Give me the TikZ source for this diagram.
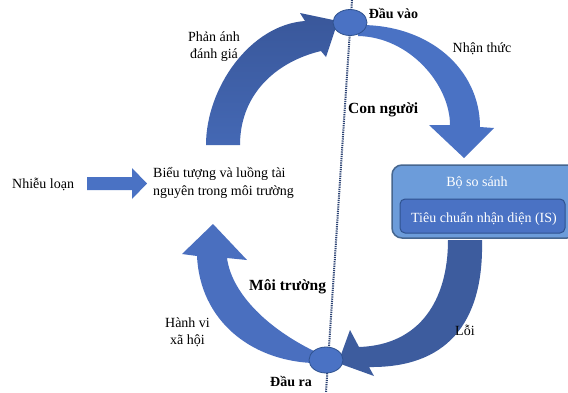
\documentclass[tikz,border=0pt]{standalone}
\usepackage{fontspec}
\setmainfont{Liberation Serif}
\usetikzlibrary{shapes.geometric}
\definecolor{blueA}{HTML}{4A72C4}
\definecolor{blueB}{HTML}{3D5C9E}
\definecolor{blueC}{HTML}{4A6FBF}
\definecolor{blueTop}{HTML}{39579A}
\definecolor{blueBot}{HTML}{4468B4}
\definecolor{edgeC}{HTML}{2F528F}
\definecolor{boxOut}{HTML}{6C9CDA}
\definecolor{boxEdge}{HTML}{46668F}
\definecolor{lineC}{HTML}{2A4172}
\begin{document}
\begin{tikzpicture}[x=1pt,y=-1pt,
  txt/.style={font=\fontsize{14}{17}\selectfont, inner sep=0pt, text=black},
  btxt/.style={font=\fontsize{14}{17}\selectfont\bfseries, inner sep=0pt, text=black},
  bigtxt/.style={font=\fontsize{15.5}{18}\selectfont\bfseries, inner sep=0pt, text=black},
  wtxt/.style={font=\fontsize{14}{17}\selectfont, inner sep=0pt, text=white},
  port/.style={ellipse, draw=edgeC, line width=0.8pt, fill=blueA, minimum width=34pt, minimum height=26pt, inner sep=0pt}]
\useasboundingbox (0,0) rectangle (568,392);
\fill[white] (0,0) rectangle (568,392);
% dotted axis
\coordinate (axT) at (352,0);
\coordinate (axB) at (326,392);
\draw[lineC, line width=2pt, dash pattern=on 1.2pt off 1pt] (axT) -- (axB);
% top-right arrow (Nhan thuc)
\fill[blueA] (358,25) .. controls (430,24) and (480,70) .. (480,127) -- (494,128) -- (464,158) -- (429,125) -- (450,125) .. controls (450,85) and (410,37) .. (358,36) -- cycle;
% top-left arrow (Phan anh danh gia)
\shade[top color=blueTop, bottom color=blueBot] (206,145) .. controls (206,88) and (250,25) .. (305,21) -- (300,13) -- (338,21) -- (326,57) -- (321,51) .. controls (275,62) and (240,95) .. (240,145) -- cycle;
% bottom-right arrow (Loi)
\fill[blueB] (482,240) .. controls (484,325) and (445,368) .. (369,367) -- (374,376) -- (338,363) -- (350,330) -- (359,347) .. controls (420,345) and (448,300) .. (448,240) -- cycle;
% bottom-left arrow (Hanh vi xa hoi)
\fill[blueC] (312,363) .. controls (250,360) and (200,320) .. (197,256) -- (182,254) -- (213,224) -- (247,260) -- (227,258) .. controls (232,295) and (270,330) .. (316,352) -- cycle;
% left straight arrow
\fill[blueA] (87,177) -- (132,177) -- (132,168) -- (147,183.5) -- (132,199) -- (132,190) -- (87,190) -- cycle;
% ports
\node[port] (in) at (350,22.5) {};
\node[port] (out) at (326,360) {};
% comparator box
\node[draw=boxEdge, line width=1.5pt, fill=boxOut, rounded corners=10pt, minimum width=185pt, minimum height=73pt, inner sep=0pt] (cmp) at (484.5,201.5) {};
\node[draw=edgeC, line width=1pt, fill=blueA, rounded corners=5pt, minimum width=165pt, minimum height=34pt, inner sep=0pt] (std) at (482.5,216) {};
\node[wtxt, anchor=base] (cmpl) at (477,186) {Bộ so sánh};
\node[wtxt, anchor=base] (stdl) at (484,222) {Tiêu chuẩn nhận diện (IS)};
% labels
\node[btxt, anchor=base] (inl) at (393.5,18) {Đầu vào};
\node[txt, anchor=base] (perc) at (482,52) {Nhận thức};
\node[bigtxt, anchor=base west] (human) at (348,113) {Con người};
\node[txt, anchor=base] (refl1) at (214,41) {Phản ánh};
\node[txt, anchor=base] (refl2) at (214,58) {đánh giá};
\node[txt, anchor=base west] (sym1) at (153,177) {Biểu tượng và luồng tài};
\node[txt, anchor=base west] (sym2) at (153,195) {nguyên trong môi trường};
\node[txt, anchor=base west] (noise) at (12,188) {Nhiễu loạn};
\node[bigtxt, anchor=base west] (env) at (249,290) {Môi trường};
\node[txt, anchor=base] (beh1) at (187.5,327) {Hành vi};
\node[txt, anchor=base] (beh2) at (187.5,344) {xã hội};
\node[txt, anchor=base west] (err) at (455,335) {Lỗi};
\node[btxt, anchor=base] (outl) at (291,386) {Đầu ra};
\end{tikzpicture}
\end{document}
